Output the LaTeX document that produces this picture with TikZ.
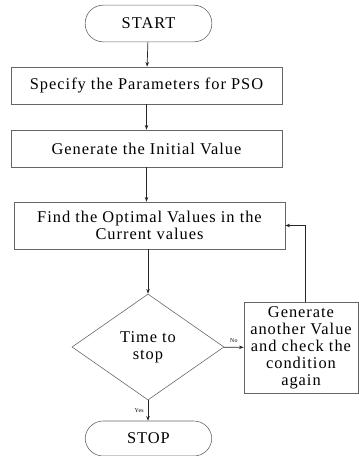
\documentclass[tikz,border=0pt]{standalone}
\usepackage{fontspec}
\setmainfont{Liberation Serif}[LetterSpace=6]
\usetikzlibrary{arrows.meta,shapes.geometric}

\begin{document}
\begin{tikzpicture}[x=0.3mm,y=-0.3mm,
  every node/.style={font=\fontsize{14}{14.5}\selectfont},
  box/.style={draw=black!60,line width=0.5pt,minimum height=1.11cm,
    minimum width=8.13cm,inner sep=2pt,align=center},
  term/.style={draw=black!60,line width=0.5pt,rounded corners=5.4mm,
    minimum width=3.8cm,minimum height=1.1cm},
  flow/.style={draw=black!85,line width=0.6pt,-{Stealth[length=4pt,width=3pt]}},
  tag/.style={font=\fontsize{5}{6}\selectfont}]
  \useasboundingbox (0,0) rectangle (359,456);

  %% Main column
  \node[term] (start) at (148.5,23.5) {START};
  \node[box] (spec) at (146.5,85.5) {Specify the Parameters for PSO};
  \node[box] (init) at (146.5,148.5) {Generate the Initial Value};
  \node[box,minimum height=1.41cm] (find) at (149.5,225.5)
    {Find the Optimal Values in the\\Current values};
  \node[diamond,draw=black!60,line width=0.5pt,aspect=1.43,inner sep=0pt,
    minimum width=4.56cm,minimum height=3.18cm,align=center] (check)
    at (148,347) {Time to\\stop};
  \node[term,minimum height=1.05cm] (stop) at (148.5,438.5) {STOP};

  %% Side box
  \node[box,minimum width=3.42cm,minimum height=2.73cm] (gen) at (301,347.5)
    {Generate\\another Value\\and check the\\condition\\again};

  \draw[flow] (start) -- (spec);
  \draw[flow] (spec) -- (init);
  \draw[flow] (init.south) -- (init.south |- find.north);
  \draw[flow] (check.north |- find.south) -- (check.north);
  \draw[flow] (check) -- node[tag,above] {No} (gen);
  \draw[flow] (check.south) -- node[tag,left] {Yes} (check.south |- stop.north);
  \draw[flow] ([xshift=1.2mm]gen.north) |- (find.east);

\end{tikzpicture}
\end{document}
